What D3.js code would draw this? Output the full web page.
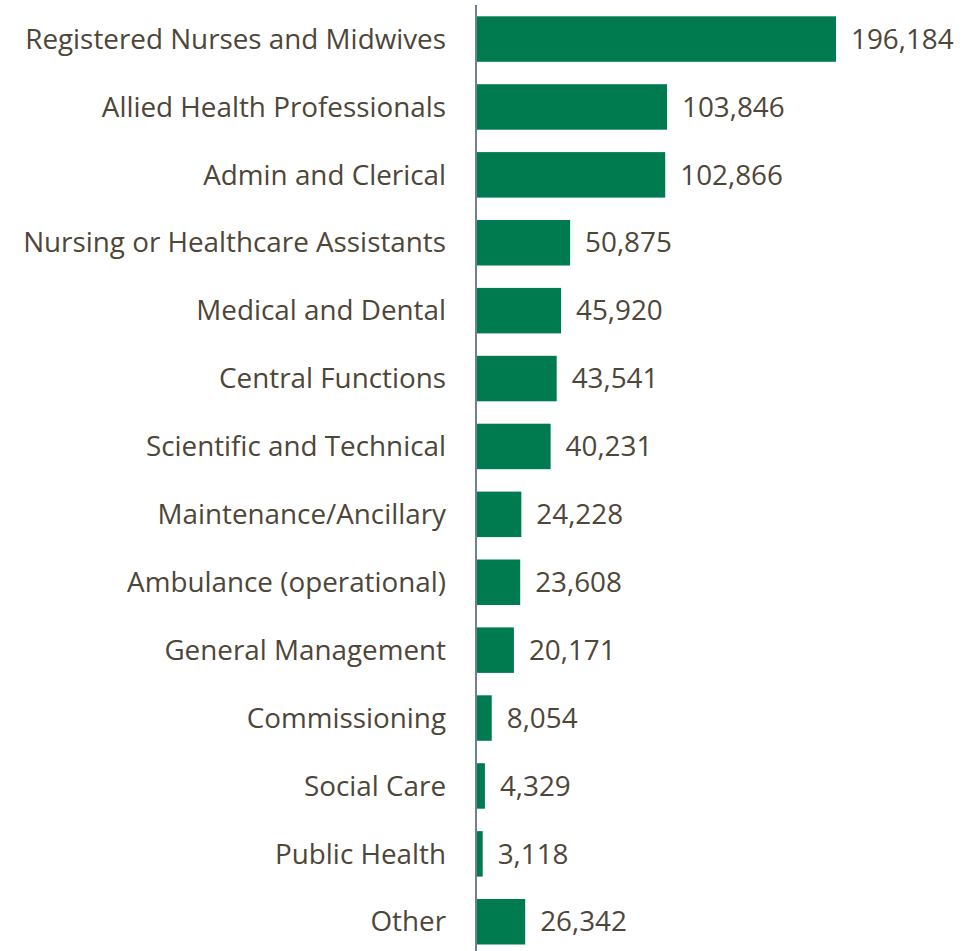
<!DOCTYPE html>
<html><head><meta charset="utf-8">
<script src="https://cdn.jsdelivr.net/npm/d3@7"></script>
<style>body{margin:0;background:#fff}</style>
</head><body>
<svg id="c" width="978" height="951"></svg>
<script>
const categories = ["Registered Nurses and Midwives","Allied Health Professionals","Admin and Clerical","Nursing or Healthcare Assistants","Medical and Dental","Central Functions","Scientific and Technical","Maintenance/Ancillary","Ambulance (operational)","General Management","Commissioning","Social Care","Public Health","Other"];
const values = [196184,103846,102866,50875,45920,43541,40231,24228,23608,20171,8054,4329,3118,26342];

const svg = d3.select("#c");
const font = "'Open Sans', sans-serif";
const textColor = "#4d4639";
const barColor = "#007b4f";

const x = d3.scaleLinear().domain([0, 196184]).range([477, 836]);
const y = d3.scaleBand().domain(categories).range([5.1, 955.7]).paddingInner(0.33).paddingOuter(0.165);

// measure to fit font size to target label width
const probe = svg.append("text").attr("font-family", font).attr("font-size", 28).text(categories[0]);
const w = probe.node().getComputedTextLength();
probe.remove();
const fs = 28 * 421 / w;

svg.selectAll("rect.bar").data(values).join("rect")
  .attr("class","bar")
  .attr("x", x(0))
  .attr("y", (d,i)=>y(categories[i]))
  .attr("width", d=>x(d)-x(0))
  .attr("height", y.bandwidth())
  .attr("fill", barColor);

svg.selectAll("text.cat").data(categories).join("text")
  .attr("class","cat")
  .attr("x", 446)
  .attr("y", d=>y(d)+y.bandwidth()/2)
  .attr("dy","0.35em")
  .attr("text-anchor","end")
  .attr("font-family", font)
  .attr("font-size", fs)
  .attr("fill", textColor)
  .text(d=>d);

const fmt = d3.format(",");
svg.selectAll("text.val").data(values).join("text")
  .attr("class","val")
  .attr("x", d=>x(d)+15)
  .attr("y", (d,i)=>y(categories[i])+y.bandwidth()/2)
  .attr("dy","0.35em")
  .attr("font-family", font)
  .attr("font-size", fs)
  .attr("fill", textColor)
  .text(d=>fmt(d));

svg.append("line")
  .attr("x1", 476).attr("x2", 476)
  .attr("y1", 5).attr("y2", 951)
  .attr("stroke", "#3f5670").attr("stroke-width", 1.5);
</script>
</body></html>
